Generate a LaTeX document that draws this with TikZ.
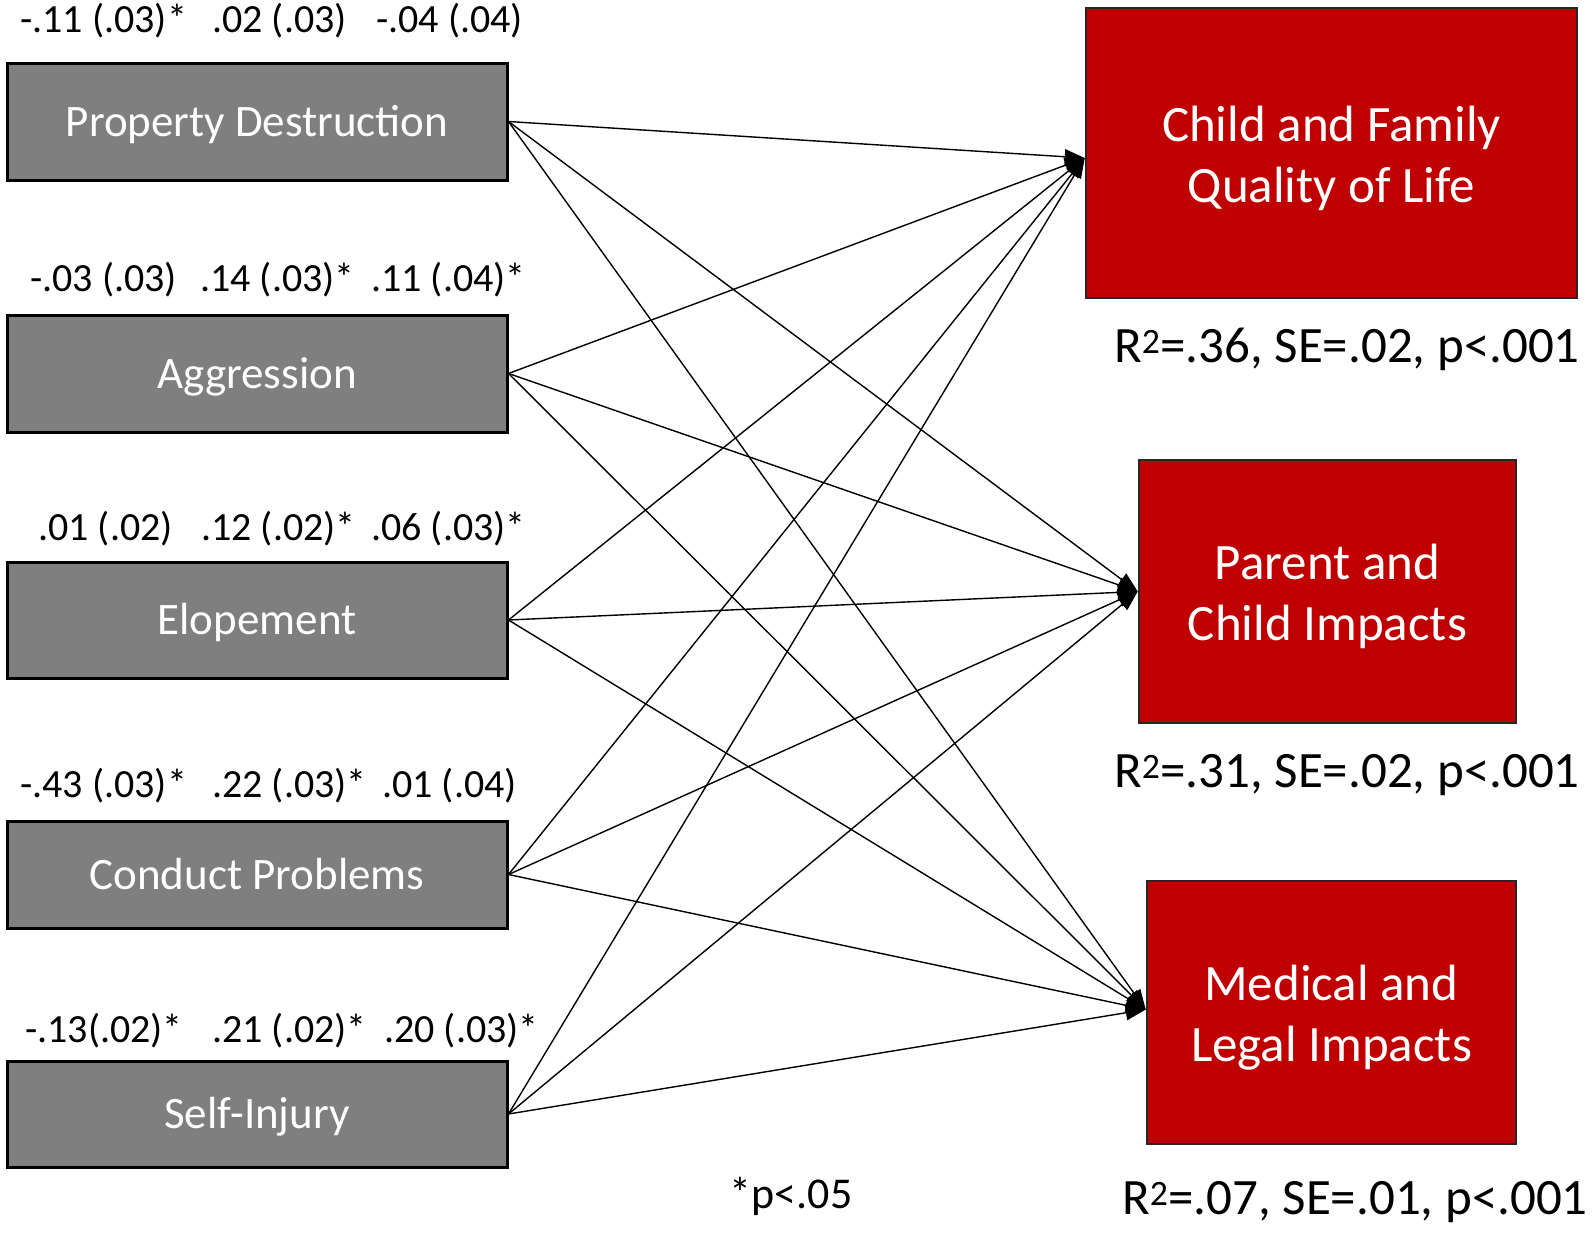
\documentclass[tikz,border=0pt]{standalone}
\usepackage{fontspec}
\setmainfont{Carlito}
\usetikzlibrary{arrows.meta}
\definecolor{boxgray}{HTML}{7F7F7F}
\definecolor{boxred}{HTML}{C00000}
\tikzset{
  predbox/.style={draw=black, line width=3pt, fill=boxgray, text=white, inner sep=0pt,
    minimum width=500pt, text height=36pt, text depth=7pt, font=\fontsize{45}{54}\selectfont},
  outbox/.style={draw=black!85, line width=2.6pt, fill=boxred, inner sep=0pt},
  outtext/.style={text=white, inner sep=0pt, align=center, yshift=-5pt, font=\fontsize{51}{61}\selectfont},
  coef/.style={anchor=base west, inner sep=0pt, font=\fontsize{40}{48}\selectfont},
  rsq/.style={inner sep=0pt, font=\fontsize{51}{60}\selectfont},
  path/.style={line width=1.4pt, -{Triangle[length=20pt,width=15pt]}}
}
\begin{document}
\begin{tikzpicture}[x=1pt,y=-1pt]
\useasboundingbox (0,0) rectangle (1595,1234);
% predictor boxes
\node[predbox, minimum height=117pt] (pd) at (257,121.5) {Property Destruction};
\node[predbox, minimum height=117pt] (ag) at (257,373.5) {Aggression};
\node[predbox, minimum height=116pt] (el) at (257,620) {Elopement};
\node[predbox, minimum height=107pt] (cp) at (257,874.5) {Conduct Problems};
\node[predbox, minimum height=106pt] (si) at (257,1114) {Self-Injury};
% outcome boxes
\node[outbox, minimum width=491pt, minimum height=290pt] (qol) at (1331.5,153) {};
\node[outtext] (qolt) at (qol.center) {Child and Family\\Quality of Life};
\node[outbox, minimum width=377pt, minimum height=263pt] (pci) at (1327.5,591.5) {};
\node[outtext] (pcit) at (pci.center) {Parent and\\Child Impacts};
\node[outbox, minimum width=369pt, minimum height=263pt] (mli) at (1331.5,1012.5) {};
\node[outtext] (mlit) at (mli.center) {Medical and\\Legal Impacts};
% coefficients
\node[coef] (c11) at (20,32) {-.11 (.03)*};
\node[coef] (c12) at (212,32) {.02 (.03)};
\node[coef] (c13) at (376,32) {-.04 (.04)};
\node[coef] (c21) at (30,291) {-.03 (.03)};
\node[coef] (c22) at (200,291) {.14 (.03)*};
\node[coef] (c23) at (371,291) {.11 (.04)*};
\node[coef] (c31) at (38,540) {.01 (.02)};
\node[coef] (c32) at (201,540) {.12 (.02)*};
\node[coef] (c33) at (371,540) {.06 (.03)*};
\node[coef] (c41) at (20,797) {-.43 (.03)*};
\node[coef] (c42) at (212,797) {.22 (.03)*};
\node[coef] (c43) at (382,797) {.01 (.04)};
\node[coef] (c51) at (25,1042) {-.13(.02)*};
\node[coef] (c52) at (212,1042) {.21 (.02)*};
\node[coef] (c53) at (384,1042) {.20 (.03)*};
% R-squared labels
\node[rsq] (r1) at (1347,349) {R\textsuperscript{2}=.36, SE=.02, p<.001};
\node[rsq] (r2) at (1347,775) {R\textsuperscript{2}=.31, SE=.02, p<.001};
\node[rsq] (r3) at (1355,1202) {R\textsuperscript{2}=.07, SE=.01, p<.001};
\node[inner sep=0pt, font=\fontsize{44}{52}\selectfont] (sig) at (791,1196) {*p<.05};
% paths
\foreach \s in {pd,ag,el,cp,si}{
  \draw[path] (\s.east) -- ([yshift=-5pt]qol.west);
  \draw[path] (\s.east) -- (pci.west);
  \draw[path] (\s.east) -- ([yshift=3pt]mli.west);
}
\end{tikzpicture}
\end{document}
